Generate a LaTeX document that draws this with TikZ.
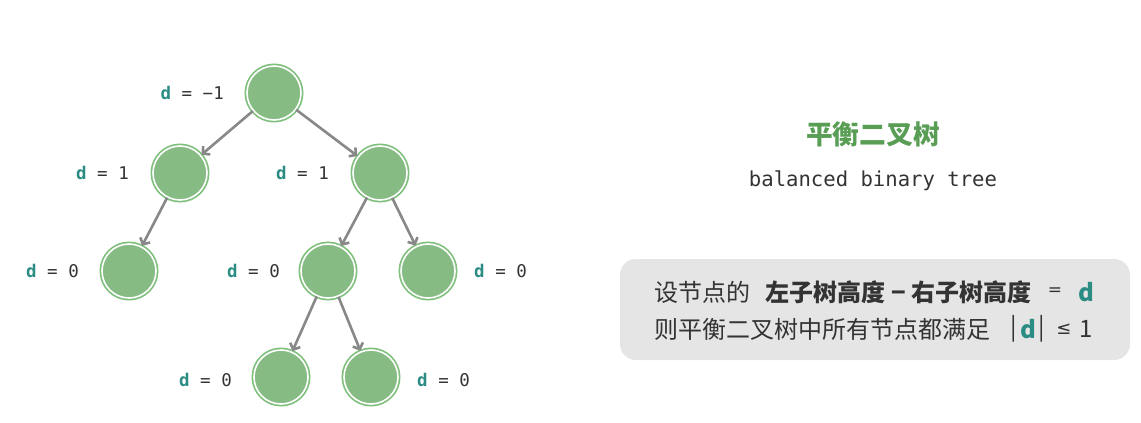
\documentclass[tikz,border=0pt]{standalone}
\usepackage{fontspec}
\usetikzlibrary{arrows.meta}
\newfontfamily\cjk{Noto Sans CJK SC}
\newfontfamily\monof{DejaVu Sans Mono}
\newfontfamily\dejasans{DejaVu Sans}
\definecolor{nodegreen}{HTML}{86BB84}
\definecolor{ringgreen}{HTML}{7FBF7C}
\definecolor{titlegreen}{HTML}{5A9E56}
\definecolor{dteal}{HTML}{2B8C84}
\definecolor{txtgray}{HTML}{333333}
\definecolor{arrgray}{HTML}{888888}
\definecolor{boxgray}{HTML}{E5E5E5}
\begin{document}
\begin{tikzpicture}[x=1pt,y=-1pt,
  tnode/.style={circle, minimum size=54pt, inner sep=0pt, fill=nodegreen, draw=white, line width=1.6pt,
    preaction={draw=ringgreen, line width=5pt}},
  arr/.style={draw=arrgray, line width=2.6pt, -{Straight Barb[length=5pt,width=11pt]}, shorten >=0.5pt},
  dlab/.style={font=\monof\fontsize{17.5}{20}\selectfont, text=txtgray, inner sep=0pt},
  cjktext/.style={font=\cjk\fontsize{24}{27}\selectfont, text=txtgray, inner sep=0pt},
  cjkbold/.style={font=\cjk\bfseries\fontsize{24}{27}\selectfont, text=txtgray, inner sep=0pt}
]
\useasboundingbox (0,0) rectangle (1141,423);
% nodes
\node[tnode] (r) at (274,93) {};
\node[tnode] (a) at (180,173) {};
\node[tnode] (b) at (380,173) {};
\node[tnode] (c) at (129,271) {};
\node[tnode] (d) at (328,271) {};
\node[tnode] (e) at (428,271) {};
\node[tnode] (f) at (281,377) {};
\node[tnode] (g) at (371,377) {};
% edges
\draw[arr] (r) -- (a);
\draw[arr] (r) -- (b);
\draw[arr] (a) -- (c);
\draw[arr] (b) -- (d);
\draw[arr] (b) -- (e);
\draw[arr] (d) -- (f);
\draw[arr] (d) -- (g);
% labels
\newcommand{\dl}[1]{\textcolor{dteal}{\bfseries d} = #1}
\node[dlab, anchor=east] (lr) at (224,93) {\dl{−1}};
\node[dlab, anchor=east] (la) at (129,173) {\dl{1}};
\node[dlab, anchor=east] (lb) at (329,173) {\dl{1}};
\node[dlab, anchor=east] (lc) at (79,271) {\dl{0}};
\node[dlab, anchor=east] (ld) at (280,271) {\dl{0}};
\node[dlab, anchor=west] (le) at (474,271) {\dl{0}};
\node[dlab, anchor=east] (lf) at (232,380) {\dl{0}};
\node[dlab, anchor=west] (lg) at (417,380) {\dl{0}};
% right side
\node[font=\cjk\bfseries\fontsize{26.7}{30}\selectfont, text=titlegreen, inner sep=0pt] (title) at (873,134) {平衡二叉树};
\node[font=\monof\fontsize{20.6}{24}\selectfont, text=txtgray, inner sep=0pt] (sub) at (873,181) {balanced binary tree};
\fill[boxgray, rounded corners=16pt] (620,259) rectangle (1130,360);
\node[cjktext, anchor=west] (t1) at (654,292) {设节点的};
\node[cjkbold, anchor=west] (t2) at (765,292) {左子树高度\hspace{6pt}−\hspace{6pt}右子树高度};
\node[cjktext, font=\dejasans\fontsize{17}{20}\selectfont] (t3) at (1055,292) {=};
\node[cjkbold, text=dteal] (t4) at (1086,292) {d};
\node[cjktext, anchor=west] (t5) at (654,329) {则平衡二叉树中所有节点都满足};
\node[cjktext] (t6a) at (1014,329) {|};
\node[cjkbold, text=dteal] (t6b) at (1028,329) {d};
\node[cjktext] (t6c) at (1042,329) {|};
\node[cjktext, font=\dejasans\fontsize{18}{20}\selectfont] (t6d) at (1064,329) {≤};
\node[cjktext] (t6e) at (1086,329) {1};
\end{tikzpicture}
\end{document}
